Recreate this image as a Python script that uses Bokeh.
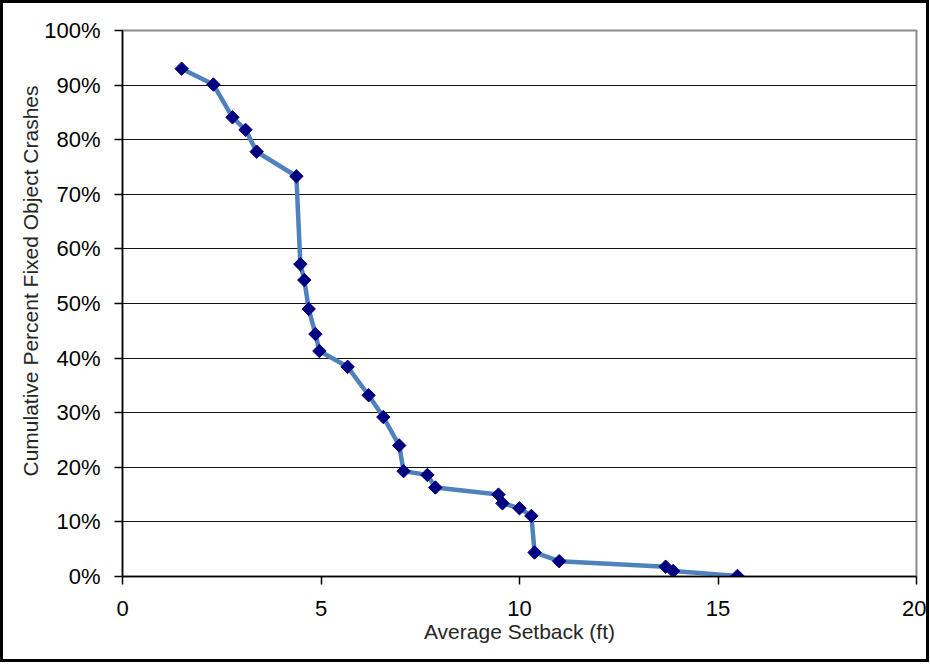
import numpy as np
from bokeh.plotting import figure
from bokeh.models import (ColumnDataSource, FixedTicker, PrintfTickFormatter,
                          Title, Range1d)
from bokeh.embed import file_html
from bokeh.resources import INLINE

# ---- data ----
setback_ft = [1.49, 2.29, 2.77, 3.10, 3.38, 4.38, 4.48, 4.58, 4.69, 4.86,
              4.96, 5.67, 6.20, 6.57, 6.97, 7.08, 7.68, 7.88, 9.47, 9.57,
              10.00, 10.30, 10.38, 11.00, 13.68, 13.87, 15.49]
cum_pct = [93.0, 90.1, 84.1, 81.8, 77.8, 73.3, 57.2, 54.3, 49.0, 44.4,
           41.3, 38.4, 33.2, 29.2, 24.0, 19.3, 18.6, 16.3, 15.0, 13.4,
           12.5, 11.1, 4.4, 2.8, 1.8, 1.0, 0.1]
x_ticks = [0, 5, 10, 15, 20]
y_ticks = [0, 10, 20, 30, 40, 50, 60, 70, 80, 90, 100]
x_title = "Average Setback (ft)"
y_title = "Cumulative Percent Fixed Object Crashes"

src = ColumnDataSource(data=dict(x=setback_ft, y=cum_pct))

p = figure(frame_width=794, frame_height=546,
           min_border_left=119, min_border_right=10,
           min_border_top=27, min_border_bottom=83,
           x_range=Range1d(0, 20), y_range=Range1d(0, 100),
           output_backend="svg", toolbar_location=None,
           background_fill_color="white", border_fill_color="white")
p.styles = {"border": "3px solid black"}

p.outline_line_color = "#8a8a8a"
p.outline_line_width = 2

# grid
p.xgrid.grid_line_color = None
p.ygrid.grid_line_color = "#111111"
p.ygrid.grid_line_width = 1.2
p.ygrid.ticker = FixedTicker(ticks=y_ticks)

# axes
for ax in (p.xaxis[0], p.yaxis[0]):
    ax.axis_line_color = "black"
    ax.axis_line_width = 1.5
    ax.major_tick_line_color = "black"
    ax.major_tick_line_width = 1.5
    ax.major_tick_in = 0
    ax.major_tick_out = 8
    ax.minor_tick_line_color = None
    ax.major_label_text_font = "Liberation Sans"
    ax.major_label_text_font_size = "22px"
    ax.major_label_text_color = "black"

p.xaxis.ticker = FixedTicker(ticks=x_ticks)
p.yaxis.ticker = FixedTicker(ticks=y_ticks)
p.yaxis.formatter = PrintfTickFormatter(format="%d%%")
p.yaxis.major_label_standoff = 14
p.xaxis.major_label_standoff = 16

p.xaxis.axis_label = x_title
p.xaxis.axis_label_text_font = "Liberation Sans"
p.xaxis.axis_label_text_font_size = "21px"
p.xaxis.axis_label_text_font_style = "normal"
p.xaxis.axis_label_text_color = "#262626"
p.xaxis.axis_label_standoff = 1

# y title as a left-side title, shifted up like the reference
p.add_layout(Title(text=y_title, align="left", offset=100, standoff=0,
                   text_font="Liberation Sans", text_font_size="21px",
                   text_font_style="normal", text_color="#262626"), "left")

# series
p.line("x", "y", source=src, line_color="#4F81BD", line_width=4.5)
p.scatter("x", "y", source=src, marker="square", angle=np.pi / 4,
          size=9.5, fill_color="#000080", line_color="#000080")

open("out.html", "w").write(file_html(p, INLINE))
